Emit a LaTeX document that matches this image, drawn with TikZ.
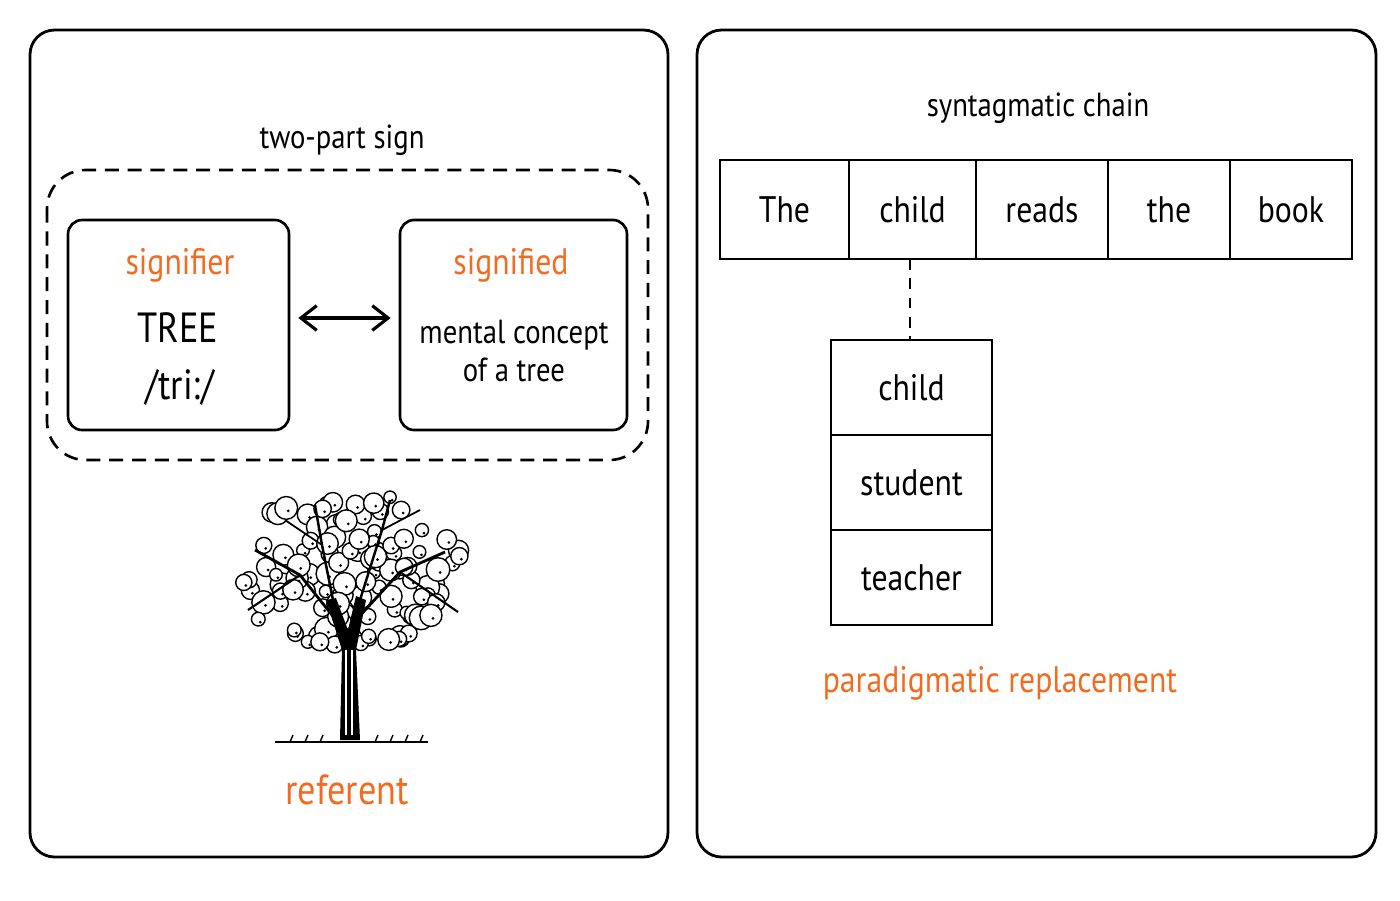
\documentclass[tikz,border=0pt]{standalone}
\usepackage{fontspec}
\setmainfont{PT Sans}[FakeStretch=0.86]
\usetikzlibrary{arrows.meta}
\definecolor{org}{HTML}{F26B21}
\begin{document}
\begin{tikzpicture}[x=0.02cm,y=-0.02cm,
 panel/.style={draw,line width=1.6pt,rounded corners=14pt},
 box/.style={draw,line width=1.5pt,rounded corners=8pt},
 cell/.style={draw,line width=1.5pt,minimum height=99*0.02cm,inner sep=0pt},
 lbl/.style={font=\fontsize{19}{22}\selectfont},
 big/.style={font=\fontsize{21}{25}\selectfont},
 ttl/.style={font=\fontsize{21}{25}\selectfont,text=org}]
\useasboundingbox (0,0) rectangle (1400,900);
\draw[panel] (30,30) rectangle (668,857);
\draw[panel] (697,30) rectangle (1376,857);
% left
\node[lbl] (tps) at (342,140) {two-part sign};
\draw[line width=1.5pt,dash pattern=on 8pt off 5pt,rounded corners=22pt] (47,170) rectangle (648,460);
\node[box,minimum width=221*0.02cm,minimum height=210*0.02cm] (sr) at (178.5,325) {};
\node[box,minimum width=227*0.02cm,minimum height=210*0.02cm] (sd) at (513.5,325) {};
\node[ttl] (t1) at (180,265) {signifier};
\node[font=\fontsize{24}{28}\selectfont] (t2) at (178,328) {TREE};
\node[font=\fontsize{24}{28}\selectfont] (t3) at (180,387) {/tri:/};
\node[ttl] (t4) at (511,265) {signified};
\node[lbl,align=center] (t5) at (514,351) {mental concept\\of a tree};
\draw[{Straight Barb[length=9pt,width=14pt]}-{Straight Barb[length=9pt,width=14pt]},line width=1.8pt] ([shift={(8,-7)}]sr.east) coordinate (a1) -- ([shift={(-8,-7)}]sd.west) coordinate (a2);
% tree
\begin{scope}
\pgfmathsetseed{7}
\foreach \i in {1,...,110}{
  \pgfmathsetmacro{\ang}{rnd*360}
  \pgfmathsetmacro{\r}{sqrt(rnd)}
  \pgfmathsetmacro{\cx}{348+118*\r*cos(\ang)}
  \pgfmathsetmacro{\cy}{570+78*\r*sin(\ang)}
  \pgfmathsetmacro{\rad}{6+6*rnd}
  \draw[fill=white,line width=0.8pt] (\cx,\cy) circle[radius=\rad];
  \fill (\cx+2,\cy+3) circle[radius=1.5];
}
\fill (340,740) -- (342,650) -- (326,600) -- (336,598) -- (348,630) -- (356,596) -- (366,600) -- (356,650) -- (360,740) -- cycle;
\draw[white,line width=0.8pt] (346,735) -- (346,650) (352,735) -- (352,650);
\draw[line width=1.6pt] (340,625) -- (300,575) -- (255,550);
\draw[line width=1.6pt] (356,620) -- (400,572) -- (445,552);
\draw[line width=1.4pt] (333,600) -- (322,545) -- (315,505);
\draw[line width=1.4pt] (360,600) -- (382,530) -- (390,500);
\draw[line width=1.2pt] (300,575) -- (248,610);
\draw[line width=1.2pt] (400,572) -- (458,612);
\draw[line width=1pt] (322,545) -- (285,520);
\draw[line width=1pt] (382,530) -- (420,510);
\draw[line width=1pt] (275,742) -- (428,742);
\foreach \gx in {290,305,320,375,390,405,420}{\draw[line width=0.8pt] (\gx,742) -- (\gx+3,735);}
\end{scope}
\node[ttl,font=\fontsize{24}{28}\selectfont] (ref) at (347,790) {referent};
% right
\node[lbl] (sc) at (1038,108) {syntagmatic chain};
\node[cell,minimum width=129*0.02cm,big] (c1) at (784.5,209.5) {The};
\node[cell,minimum width=127*0.02cm,big] (c2) at (912.5,209.5) {child};
\node[cell,minimum width=132*0.02cm,big] (c3) at (1042,209.5) {reads};
\node[cell,minimum width=122*0.02cm,big] (c4) at (1169,209.5) {the};
\node[cell,minimum width=122*0.02cm,big] (c5) at (1291,209.5) {book};
\node[cell,minimum width=161*0.02cm,minimum height=95*0.02cm,big] (p1) at (911.5,387.5) {child};
\node[cell,minimum width=161*0.02cm,minimum height=95*0.02cm,big] (p2) at (911.5,482.5) {student};
\node[cell,minimum width=161*0.02cm,minimum height=95*0.02cm,big] (p3) at (911.5,577.5) {teacher};
\draw[line width=1.5pt,dash pattern=on 6pt off 5pt] (910,259) -- (p1.north -| 910,0);
\node[ttl] (pr) at (1000,683) {paradigmatic replacement};
\end{tikzpicture}
\end{document}
